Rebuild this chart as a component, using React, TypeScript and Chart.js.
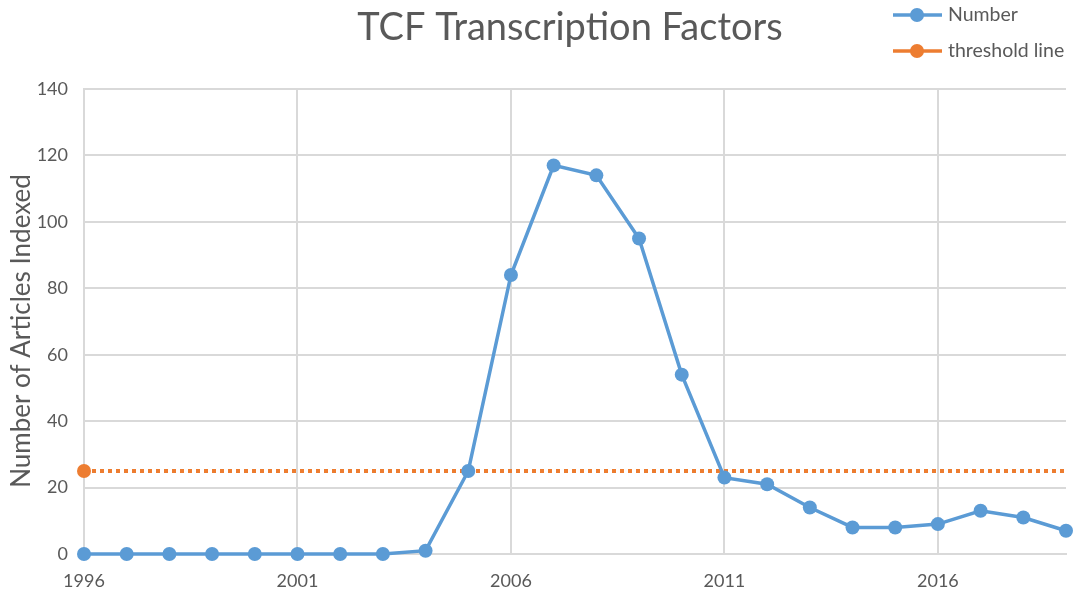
import React, { useEffect, useRef } from "react";
import { Chart, registerables } from "chart.js";

Chart.register(...registerables);

const years = [
  "1996", "1997", "1998", "1999", "2000", "2001", "2002", "2003", "2004", "2005",
  "2006", "2007", "2008", "2009", "2010", "2011", "2012", "2013", "2014", "2015",
  "2016", "2017", "2018", "2019",
];
const numberValues = [0, 0, 0, 0, 0, 0, 0, 0, 1, 25, 84, 117, 114, 95, 54, 23, 21, 14, 8, 8, 9, 13, 11, 7];
const thresholdValue = 25;
const thresholdValues = years.map(() => thresholdValue);
const yTicks = [0, 20, 40, 60, 80, 100, 120, 140];
const titleText = "TCF Transcription Factors";
const yTitleText = "Number of Articles Indexed";
const seriesNames = ["Number", "threshold line"];

const FONT = "Lato, 'Liberation Sans', sans-serif";
const TEXT = "#595959";
const BLUE = "#5b9bd5";
const ORANGE = "#ed7d31";
const GRID = "#d9d9d9";

const overlayPlugin = {
  id: "overlay",
  afterDraw(chart: any) {
    const ctx = chart.ctx;
    ctx.save();
    ctx.fillStyle = TEXT;
    ctx.font = `38px ${FONT}`;
    ctx.textAlign = "center";
    ctx.textBaseline = "middle";
    ctx.fillText(titleText, 570, 28);

    ctx.save();
    ctx.translate(22, 331);
    ctx.rotate(-Math.PI / 2);
    ctx.font = `26px ${FONT}`;
    ctx.fillText(yTitleText, 0, 0);
    ctx.restore();

    const items = [
      { name: seriesNames[0], color: BLUE, y: 15 },
      { name: seriesNames[1], color: ORANGE, y: 51 },
    ];
    ctx.font = `19.5px ${FONT}`;
    ctx.textAlign = "left";
    for (const it of items) {
      ctx.strokeStyle = it.color;
      ctx.lineWidth = 3.5;
      ctx.beginPath();
      ctx.moveTo(893, it.y);
      ctx.lineTo(942, it.y);
      ctx.stroke();
      ctx.fillStyle = it.color;
      ctx.beginPath();
      ctx.arc(917, it.y, 7, 0, Math.PI * 2);
      ctx.fill();
      ctx.fillStyle = TEXT;
      ctx.fillText(it.name, 948, it.y);
    }
    ctx.restore();
  },
};

export default function App() {
  const ref = useRef<HTMLCanvasElement | null>(null);
  useEffect(() => {
    document.body.style.margin = "0";
    const chart = new Chart(ref.current!, {
      type: "line",
      data: {
        labels: years,
        datasets: [
          {
            label: seriesNames[1],
            data: thresholdValues,
            borderColor: ORANGE,
            backgroundColor: ORANGE,
            borderWidth: 4,
            borderDash: [4, 4],
            borderCapStyle: "butt",
            pointRadius: (c: any) => (c.dataIndex === 0 ? 7 : 0),
            pointBorderWidth: 0,
            pointBackgroundColor: ORANGE,
            clip: false,
            order: 2,
          },
          {
            label: seriesNames[0],
            data: numberValues,
            borderColor: BLUE,
            backgroundColor: BLUE,
            borderWidth: 3.5,
            pointRadius: 7,
            pointBorderWidth: 0,
            pointBackgroundColor: BLUE,
            tension: 0,
            clip: false,
            order: 1,
          },
        ],
      },
      options: {
        animation: false,
        responsive: false,
        layout: { padding: { top: 89, right: 5, left: 0, bottom: 0 } },
        plugins: {
          legend: { display: false },
          title: { display: false },
          tooltip: { enabled: false },
        },
        scales: {
          x: {
            type: "category",
            offset: false,
            border: { display: true, color: GRID, width: 2 },
            grid: { color: GRID, lineWidth: 2, drawTicks: false },
            ticks: {
              autoSkip: false,
              maxRotation: 0,
              padding: 16,
              color: TEXT,
              font: { family: FONT, size: 18 },
              callback: (_v: any, i: number) => (i % 5 === 0 ? years[i] : null),
            },
            afterFit: (s: any) => {
              s.height = 44;
            },
          },
          y: {
            min: 0,
            max: 140,
            border: { display: true, color: GRID, width: 2 },
            grid: { color: GRID, lineWidth: 2, drawTicks: false },
            afterBuildTicks: (s: any) => {
              s.ticks = yTicks.map((v) => ({ value: v }));
            },
            ticks: {
              padding: 16,
              color: TEXT,
              font: { family: FONT, size: 18 },
            },
            title: { display: false },
            afterFit: (s: any) => {
              s.width = 84;
            },
          },
        },
      },
      plugins: [overlayPlugin],
    } as any);
    return () => chart.destroy();
  }, []);
  return (
    <div style={{ position: "absolute", left: 0, top: 0, width: 1073, height: 598, background: "#fff" }}>
      <canvas ref={ref} width={1073} height={598} />
    </div>
  );
}
